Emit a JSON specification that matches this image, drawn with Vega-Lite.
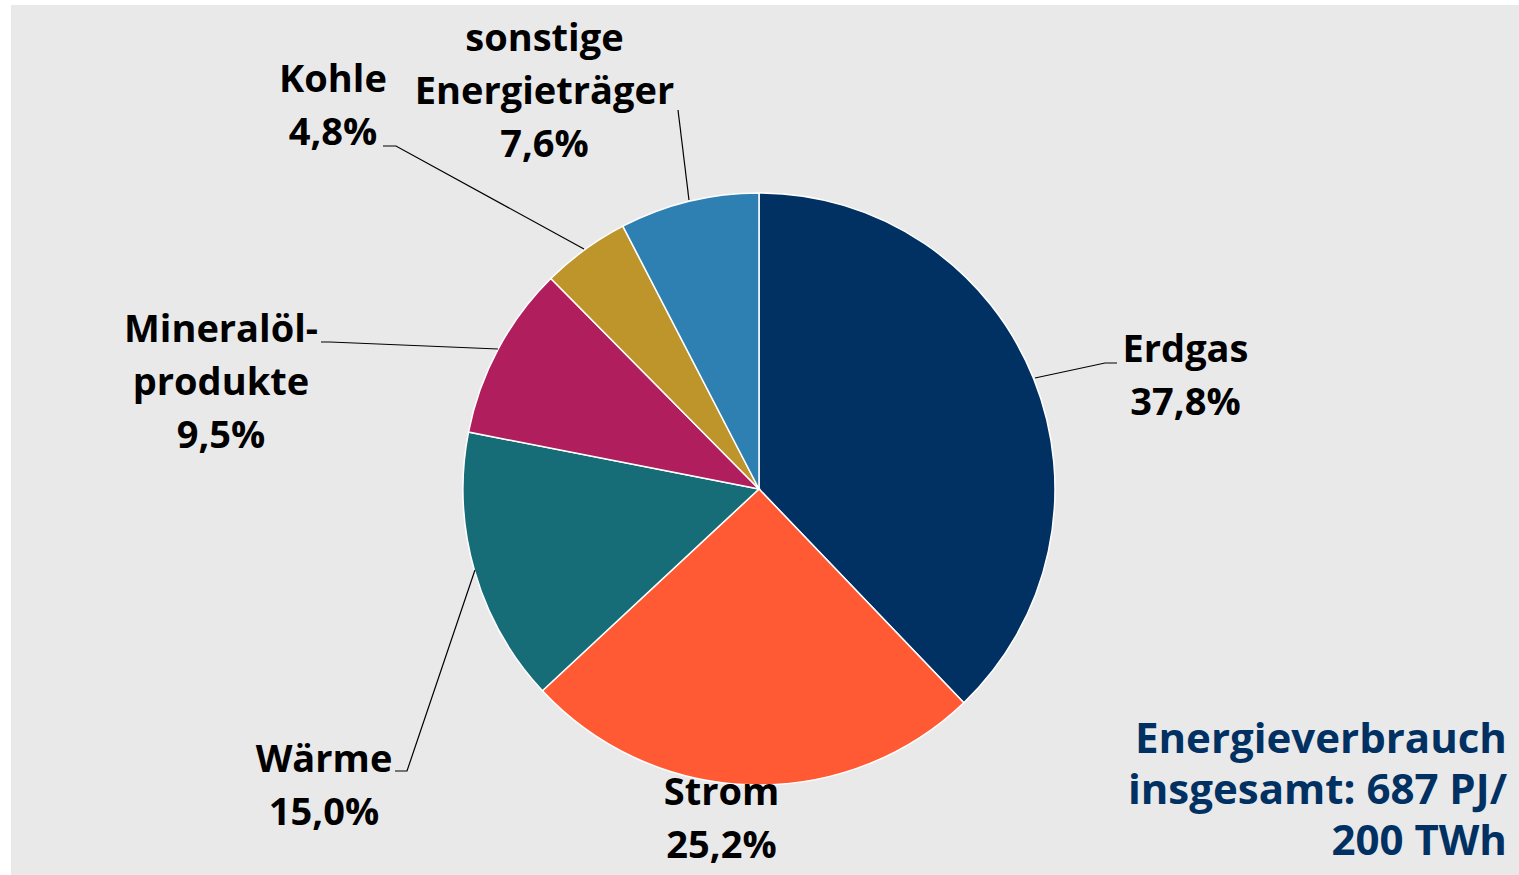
{
  "$schema": "https://vega.github.io/schema/vega-lite/v6.json",
  "width": 1508,
  "height": 870,
  "autosize": {"type": "none"},
  "padding": {"left": 11, "top": 5, "right": 0, "bottom": 0},
  "background": "white",
  "config": {"view": {"fill": "#e9e9e9", "stroke": null}},
  "datasets": {
    "shares": [
      {"category": "Erdgas", "share": 37.8, "rank": 1, "label": "Erdgas\n37,8%", "lx": 1.4409, "ly": 0.4291},
      {"category": "Strom", "share": 25.2, "rank": 2, "label": "Strom\n25,2%", "lx": -0.1267, "ly": -1.0676},
      {"category": "Wärme", "share": 15.0, "rank": 3, "label": "Wärme\n15,0%", "lx": -1.4696, "ly": -0.9561},
      {"category": "Mineralölprodukte", "share": 9.5, "rank": 4, "label": "Mineralöl-\nprodukte\n9,5%", "lx": -1.8176, "ly": 0.4966},
      {"category": "Kohle", "share": 4.8, "rank": 5, "label": "Kohle\n4,8%", "lx": -1.4392, "ly": 1.3412},
      {"category": "sonstige Energieträger", "share": 7.6, "rank": 6, "label": "sonstige\nEnergieträger\n7,6%", "lx": -0.7247, "ly": 1.4797}
    ],
    "leaders": [
      {"category": "Erdgas", "seq": 0, "lx": 0.9324, "ly": 0.3750},
      {"category": "Erdgas", "seq": 1, "lx": 1.1689, "ly": 0.4257},
      {"category": "Erdgas", "seq": 2, "lx": 1.2095, "ly": 0.4257},
      {"category": "Kohle", "seq": 0, "lx": -1.2703, "ly": 1.1588},
      {"category": "Kohle", "seq": 1, "lx": -1.2264, "ly": 1.1588},
      {"category": "Kohle", "seq": 2, "lx": -0.5912, "ly": 0.8108},
      {"category": "sonstige Energieträger", "seq": 0, "lx": -0.2736, "ly": 1.2804},
      {"category": "sonstige Energieträger", "seq": 1, "lx": -0.2365, "ly": 0.9764},
      {"category": "Mineralölprodukte", "seq": 0, "lx": -1.4797, "ly": 0.4966},
      {"category": "Mineralölprodukte", "seq": 1, "lx": -1.4493, "ly": 0.4966},
      {"category": "Mineralölprodukte", "seq": 2, "lx": -0.8818, "ly": 0.4730},
      {"category": "Wärme", "seq": 0, "lx": -1.2297, "ly": -0.9527},
      {"category": "Wärme", "seq": 1, "lx": -1.1892, "ly": -0.9527},
      {"category": "Wärme", "seq": 2, "lx": -0.9595, "ly": -0.2736}
    ],
    "note": [
      {"text": "Energieverbrauch\ninsgesamt: 687 PJ/\n200 TWh", "lx": 2.527, "ly": -0.8919}
    ]
  },
  "layer": [
    {
      "data": {"name": "shares"},
      "mark": {"type": "arc", "outerRadius": 296, "stroke": "white", "strokeWidth": 1.5},
      "encoding": {
        "x": {"datum": 0, "type": "quantitative", "scale": {"domain": [-2.527, 2.5676], "nice": false, "zero": false}, "axis": null},
        "y": {"datum": 0, "type": "quantitative", "scale": {"domain": [-1.3041, 1.6351], "nice": false, "zero": false}, "axis": null},
        "theta": {"field": "share", "type": "quantitative", "stack": true},
        "order": {"field": "rank", "type": "quantitative"},
        "color": {
          "field": "category", "type": "nominal", "legend": null,
          "scale": {
            "domain": ["Erdgas", "Strom", "Wärme", "Mineralölprodukte", "Kohle", "sonstige Energieträger"],
            "range": ["#003162", "#ff5a33", "#176d77", "#b01e5e", "#bd952a", "#2f80b2"]
          }
        }
      }
    },
    {
      "data": {"name": "leaders"},
      "mark": {"type": "line", "color": "black", "strokeWidth": 1.2},
      "encoding": {
        "x": {"field": "lx", "type": "quantitative"},
        "y": {"field": "ly", "type": "quantitative"},
        "detail": {"field": "category"},
        "order": {"field": "seq", "type": "quantitative"}
      }
    },
    {
      "data": {"name": "shares"},
      "mark": {"type": "text", "font": "Open Sans", "fontWeight": "bold", "fontSize": 38, "lineHeight": 53, "lineBreak": "\n", "align": "center", "baseline": "alphabetic", "color": "black"},
      "encoding": {
        "x": {"field": "lx", "type": "quantitative"},
        "y": {"field": "ly", "type": "quantitative"},
        "text": {"field": "label"}
      }
    },
    {
      "data": {"name": "note"},
      "mark": {"type": "text", "font": "Open Sans", "fontWeight": "bold", "fontSize": 42, "lineHeight": 51, "lineBreak": "\n", "align": "right", "baseline": "alphabetic", "color": "#003162"},
      "encoding": {
        "x": {"field": "lx", "type": "quantitative"},
        "y": {"field": "ly", "type": "quantitative"},
        "text": {"field": "text"}
      }
    }
  ]
}
